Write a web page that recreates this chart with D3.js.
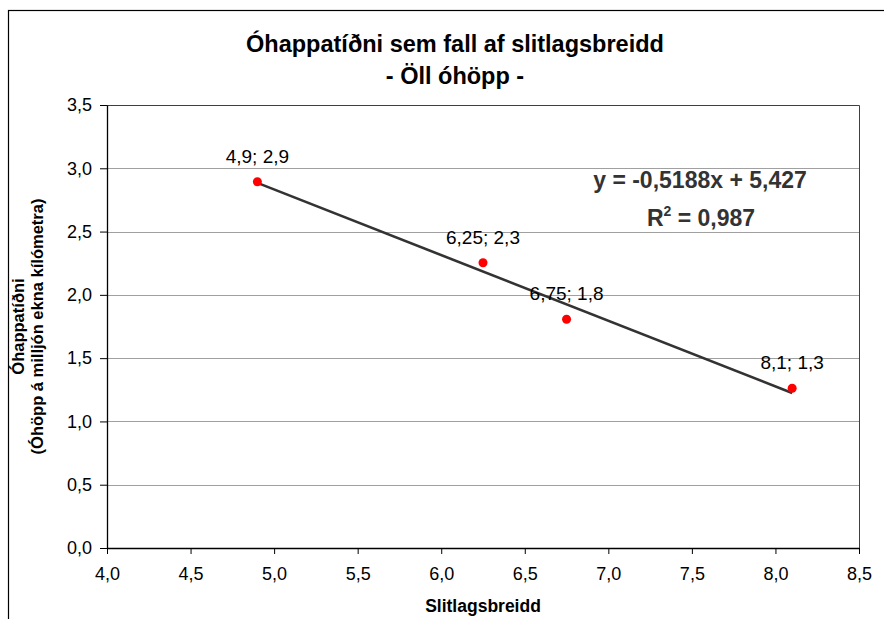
<!DOCTYPE html>
<html>
<head>
<meta charset="utf-8">
<script src="https://cdn.jsdelivr.net/npm/d3@7"></script>
<style>
  html, body { margin: 0; padding: 0; background: #fff; }
  svg { display: block; font-family: "Liberation Sans", Arial, sans-serif; }
</style>
</head>
<body>
<svg id="chart" width="884" height="619"></svg>
<script>
// ---- data ----
const widths = [4.9, 6.25, 6.75, 8.1];          // Slitlagsbreidd
const rates  = [2.894, 2.254, 1.807, 1.262];    // Óhappatíðni
const xTicks = [4.0, 4.5, 5.0, 5.5, 6.0, 6.5, 7.0, 7.5, 8.0, 8.5];
const yTicks = [0.0, 0.5, 1.0, 1.5, 2.0, 2.5, 3.0, 3.5];
const trendSlope = -0.5188;
const trendIntercept = 5.427;
const rSquared = 0.987;
const titleLines = ["Óhappatíðni sem fall af slitlagsbreidd", "- Öll óhöpp -"];
const xTitle = "Slitlagsbreidd";
const yTitleLines = ["Óhappatíðni", "(Óhöpp á milljón ekna kílómetra)"];

// ---- layout ----
const svg = d3.select("#chart");
const plot = { left: 107, right: 859, top: 105, bottom: 548 };
const comma = s => s.replace(".", ",");
const fmt1 = d3.format(".1f");

const x = d3.scaleLinear().domain([4.0, 8.5]).range([plot.left, plot.right]);
const y = d3.scaleLinear().domain([0, 3.5]).range([plot.bottom, plot.top]);

// outer chart border (extends beyond viewport on right/bottom)
svg.append("rect")
  .attr("x", 8.5).attr("y", 10.5).attr("width", 1000).attr("height", 1000)
  .attr("fill", "#fff").attr("stroke", "#000").attr("stroke-width", 1.2);

// title
svg.append("g").selectAll("text").data(titleLines).join("text")
  .attr("x", 455).attr("y", (d, i) => 52 + i * 32)
  .attr("text-anchor", "middle")
  .attr("font-weight", "bold").attr("font-size", 23.5)
  .attr("fill", "#000")
  .text(d => d);

// gridlines
svg.append("g").selectAll("line").data(yTicks.filter(v => v > 0 && v < 3.5)).join("line")
  .attr("x1", plot.left).attr("x2", plot.right)
  .attr("y1", d => Math.round(y(d)) + 0.5).attr("y2", d => Math.round(y(d)) + 0.5)
  .attr("stroke", "#a0a0a0").attr("stroke-width", 1);

// plot border top / right
svg.append("path")
  .attr("d", `M${plot.left},${plot.top + 0.5}H${plot.right + 0.5}V${plot.bottom}`)
  .attr("fill", "none").attr("stroke", "#404040").attr("stroke-width", 1);

// axes
const xAxis = d3.axisBottom(x).tickValues(xTicks).tickSizeInner(6).tickSizeOuter(0).tickPadding(13)
  .tickFormat(d => comma(fmt1(d)));
const yAxis = d3.axisLeft(y).tickValues(yTicks).tickSizeInner(7).tickSizeOuter(0).tickPadding(8)
  .tickFormat(d => comma(fmt1(d)));

const gx = svg.append("g").attr("transform", `translate(0,${plot.bottom})`).call(xAxis);
const gy = svg.append("g").attr("transform", `translate(${plot.left},0)`).call(yAxis);
[gx, gy].forEach(g => {
  g.attr("font-size", 18).attr("font-family", "Liberation Sans, Arial, sans-serif");
  g.select(".domain").attr("stroke", "#000").attr("stroke-width", 1.3);
  g.selectAll(".tick line").attr("stroke", "#000");
  g.selectAll(".tick text").attr("fill", "#000");
});

// axis titles
svg.append("text")
  .attr("x", (plot.left + plot.right) / 2).attr("y", 612)
  .attr("text-anchor", "middle").attr("font-weight", "bold").attr("font-size", 17.5)
  .text(xTitle);

svg.append("g").selectAll("text").data(yTitleLines).join("text")
  .attr("transform", (d, i) => `translate(${24 + i * 19},${(plot.top + plot.bottom) / 2}) rotate(-90)`)
  .attr("text-anchor", "middle").attr("font-weight", "bold").attr("font-size", 16.5)
  .text(d => d);

// trendline
const xMin = d3.min(widths), xMax = d3.max(widths);
svg.append("line")
  .attr("x1", x(xMin)).attr("y1", y(trendSlope * xMin + trendIntercept))
  .attr("x2", x(xMax)).attr("y2", y(trendSlope * xMax + trendIntercept))
  .attr("stroke", "#333").attr("stroke-width", 2.6);

// points
const pts = widths.map((w, i) => ({ w, r: rates[i] }));
svg.append("g").selectAll("circle").data(pts).join("circle")
  .attr("cx", d => x(d.w)).attr("cy", d => y(d.r)).attr("r", 4.5)
  .attr("fill", "#ff0000");

// data labels
svg.append("g").selectAll("text").data(pts).join("text")
  .attr("x", d => x(d.w)).attr("y", d => y(d.r) - 19)
  .attr("text-anchor", "middle").attr("font-size", 19).attr("fill", "#000")
  .text(d => `${comma(String(d.w))}; ${comma(fmt1(d.r))}`);

// equation
const eq = svg.append("g").attr("font-weight", "bold").attr("font-size", 23).attr("fill", "#333")
  .attr("text-anchor", "middle");
eq.append("text").attr("x", 700).attr("y", 188)
  .text(`y = ${comma(String(trendSlope))}x + ${comma(String(trendIntercept))}`);
const r2 = eq.append("text").attr("x", 701).attr("y", 226);
r2.append("tspan").text("R");
r2.append("tspan").attr("dy", -10).attr("font-size", 14).text("2");
r2.append("tspan").attr("dy", 10).text(` = ${comma(String(rSquared))}`);
</script>
</body>
</html>
